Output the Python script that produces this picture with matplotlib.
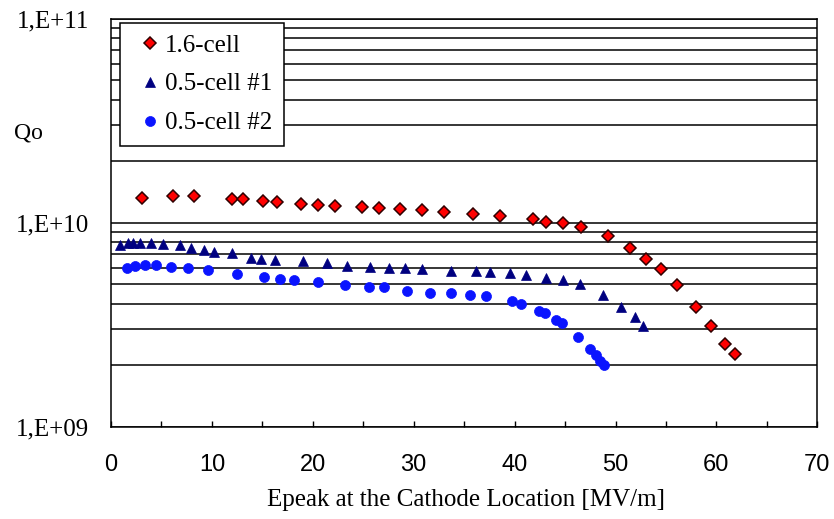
import matplotlib
matplotlib.use("Agg")
import matplotlib.pyplot as plt
from matplotlib.ticker import LogLocator, FixedLocator, NullFormatter
import numpy as np

# ---------------- data ----------------
cell16_x = [3.1, 6.1, 8.2, 12.0, 13.1, 15.1, 16.5, 18.8, 20.5, 22.2, 24.9, 26.6, 28.6, 30.8,
            33.0, 35.9, 38.6, 41.8, 43.1, 44.8, 46.6, 49.3, 51.4, 53.0, 54.5, 56.1, 58.0,
            59.5, 60.9, 61.8]
cell16_q = [1.315e10, 1.356e10, 1.35e10, 1.31e10, 1.30e10, 1.28e10, 1.265e10, 1.238e10,
            1.22e10, 1.20e10, 1.188e10, 1.175e10, 1.162e10, 1.149e10, 1.127e10, 1.106e10,
            1.081e10, 1.042e10, 1.007e10, 9.93e9, 9.55e9, 8.63e9, 7.54e9, 6.65e9, 5.90e9,
            4.97e9, 3.87e9, 3.10e9, 2.54e9, 2.27e9]

half1_x = [0.9, 1.7, 2.2, 2.9, 4.0, 5.2, 6.8, 7.9, 9.2, 10.2, 12.0, 13.9, 14.9, 16.3, 19.0,
           21.4, 23.4, 25.7, 27.6, 29.1, 30.8, 33.7, 36.2, 37.6, 39.5, 41.1, 43.1, 44.8,
           46.5, 48.8, 50.5, 51.9, 52.7]
half1_q = [7.77e9, 7.92e9, 7.97e9, 7.97e9, 7.97e9, 7.85e9, 7.77e9, 7.54e9, 7.35e9, 7.18e9,
           7.08e9, 6.71e9, 6.61e9, 6.56e9, 6.52e9, 6.32e9, 6.15e9, 6.06e9, 5.99e9, 5.97e9,
           5.90e9, 5.81e9, 5.76e9, 5.74e9, 5.64e9, 5.52e9, 5.35e9, 5.25e9, 5.01e9, 4.42e9,
           3.87e9, 3.44e9, 3.12e9]

half2_x = [1.6, 2.4, 3.4, 4.5, 5.9, 7.6, 9.6, 12.5, 15.2, 16.7, 18.1, 20.5, 23.2, 25.6, 27.1,
           29.3, 31.6, 33.7, 35.6, 37.2, 39.7, 40.6, 42.4, 43.0, 44.1, 44.7, 46.3, 47.5,
           48.1, 48.5, 48.9]
half2_q = [6.01e9, 6.12e9, 6.23e9, 6.20e9, 6.09e9, 5.97e9, 5.86e9, 5.58e9, 5.43e9, 5.30e9,
           5.26e9, 5.13e9, 4.95e9, 4.82e9, 4.82e9, 4.64e9, 4.54e9, 4.51e9, 4.44e9, 4.37e9,
           4.14e9, 3.99e9, 3.69e9, 3.60e9, 3.35e9, 3.21e9, 2.75e9, 2.39e9, 2.24e9, 2.11e9,
           2.00e9]

series_labels = ["1.6-cell", "0.5-cell #1", "0.5-cell #2"]
x_ticks = [0, 10, 20, 30, 40, 50, 60, 70]
y_ticks = [1e9, 1e10, 1e11]
y_tick_labels = ["1,E+09", "1,E+10", "1,E+11"]
x_label = "Epeak at the Cathode Location [MV/m]"
y_label = "Qo"

# ---------------- figure ----------------
W, H = 834, 519
fig = plt.figure(figsize=(W / 100, H / 100), dpi=100)
fig.patch.set_facecolor("white")
L, R, T, B = 111, 817.3, 18.5, 426.7
ax = fig.add_axes([L / W, 1 - B / H, (R - L) / W, (B - T) / H])

serif = "Liberation Serif"
sans = "Liberation Sans"

ax.plot(cell16_x, cell16_q, linestyle="none", marker="D", markersize=6.1,
        markerfacecolor="#ff0000", markeredgecolor="#300000", markeredgewidth=1.1,
        label=series_labels[0], zorder=4)
ax.plot(half1_x, half1_q, linestyle="none", marker="^", markersize=6.8,
        markerfacecolor="#000080", markeredgecolor="#000080", markeredgewidth=0.5,
        label=series_labels[1], zorder=4)
ax.plot(half2_x, half2_q, linestyle="none", marker="o", markersize=7.2,
        markerfacecolor="#0a14ff", markeredgecolor="#0a14ff", markeredgewidth=0.5,
        label=series_labels[2], zorder=4)

ax.set_yscale("log")
ax.set_xlim(0, 70)
ax.set_ylim(1e9, 1e11)

# y axis
ax.yaxis.set_major_locator(FixedLocator(y_ticks))
ax.set_yticklabels(y_tick_labels, fontfamily=serif, fontsize=18)
ax.yaxis.set_minor_locator(LogLocator(base=10, subs=np.arange(2, 10)))
ax.yaxis.set_minor_formatter(NullFormatter())
ax.tick_params(axis="y", which="both", length=0, pad=16)
ax.grid(True, axis="y", which="both", color="black", linewidth=1.1)

# x axis
ax.set_xticks(x_ticks)
ax.set_xticklabels([str(v) for v in x_ticks], fontfamily=sans, fontsize=17)
ax.xaxis.set_minor_locator(FixedLocator([5, 15, 25, 35, 45, 55, 65]))
ax.tick_params(axis="x", which="both", direction="in", length=4, width=1.0,
               color="black", top=False)
ax.tick_params(axis="x", which="major", pad=20)

for s in ax.spines.values():
    s.set_color("black")
    s.set_linewidth(1.1)

ax.set_axisbelow(True)

fig.text(466 / W, 1 - 500 / H, x_label, ha="center", va="center",
         fontfamily=serif, fontsize=18)
fig.text(28 / W, 1 - 133 / H, y_label, ha="center", va="center",
         fontfamily=serif, fontsize=17)

leg = ax.legend(loc="upper left", bbox_to_anchor=((120 - L) / (R - L), 1 - (23 - T) / (B - T)),
                prop={"family": serif, "size": 18}, frameon=True, fancybox=False,
                edgecolor="black", framealpha=1.0, borderpad=0.45, labelspacing=0.65,
                handlelength=1.5, handletextpad=-0.15, borderaxespad=0.0, numpoints=1)
leg.get_frame().set_linewidth(1.1)
leg.set_zorder(10)

fig.savefig("out.png", dpi=100, facecolor="white")
